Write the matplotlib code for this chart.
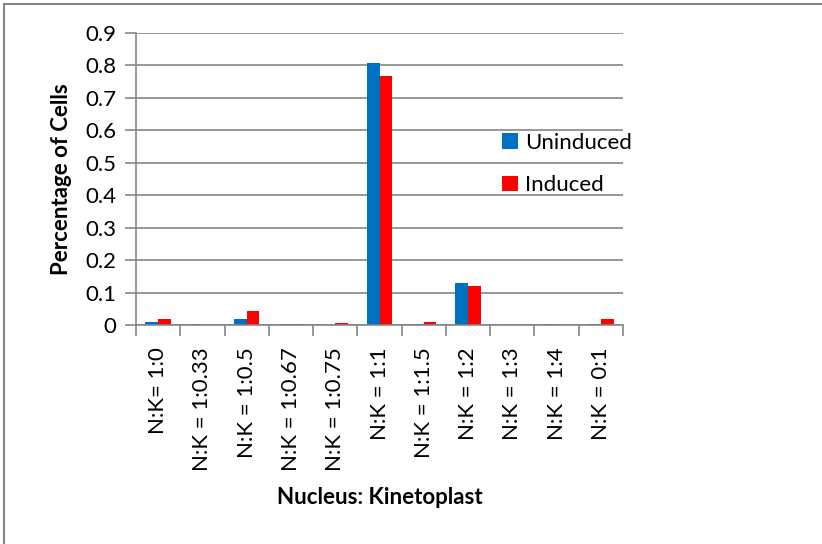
import numpy as np
import matplotlib.pyplot as plt
from matplotlib.lines import Line2D

categories = ['N:K= 1:0', 'N:K = 1:0.33', 'N:K = 1:0.5', 'N:K = 1:0.67', 'N:K = 1:0.75',
              'N:K = 1:1', 'N:K = 1:1.5', 'N:K = 1:2', 'N:K = 1:3', 'N:K = 1:4', 'N:K = 0:1']
uninduced = [0.010, 0.002, 0.020, 0.002, 0.0, 0.808, 0.002, 0.128, 0.0, 0.004, 0.004]
induced = [0.017, 0.0, 0.044, 0.004, 0.005, 0.768, 0.008, 0.120, 0.001, 0.0, 0.017]

plt.rcParams['font.family'] = ['Lato', 'DejaVu Sans']
grey = '#868686'
fs = 16

fig = plt.figure(figsize=(8.22, 5.44), dpi=100)
ax = fig.add_axes([136 / 822, 1 - 325 / 544, (623 - 136) / 822, (325 - 33) / 544])

x = np.arange(len(categories))
w = 0.286
ax.bar(x - w / 2, uninduced, w, color='#0070C0', label='Uninduced')
ax.bar(x + w / 2, induced, w, color='#FF0000', label='Induced')

ax.set_xlim(-0.5, len(categories) - 0.5)
ax.set_ylim(0, 0.9)
ax.set_yticks(np.arange(0, 0.91, 0.1))
ax.set_yticklabels(['0'] + ['%.1f' % v for v in np.arange(0.1, 0.91, 0.1)], fontsize=fs)
ax.yaxis.grid(True, color=grey, linewidth=1.2)
ax.set_axisbelow(True)

ax.set_xticks(x)
ax.set_xticklabels(categories, rotation=90, fontsize=fs)
ax.tick_params(axis='x', length=0, pad=16)
ax.set_xticks(np.arange(-0.5, len(categories), 1), minor=True)
ax.tick_params(axis='x', which='minor', length=8, color=grey, width=1.2)
ax.tick_params(axis='y', length=8, color=grey, width=1.2, pad=6)

for s in ['top', 'right']:
    ax.spines[s].set_visible(False)
for s in ['left', 'bottom']:
    ax.spines[s].set_color(grey)
    ax.spines[s].set_linewidth(1.2)

ax.set_ylabel('Percentage of Cells', fontsize=fs, fontweight='bold', labelpad=10)
fig.text(380 / 822, 1 - 497 / 544, 'Nucleus: Kinetoplast', fontsize=fs,
         fontweight='bold', ha='center', va='center')

fig.legend(loc='upper left', bbox_to_anchor=(502 / 822, 1 - 133 / 544), frameon=False,
           fontsize=fs, handlelength=0.7, handleheight=0.7, handletextpad=0.35,
           labelspacing=1.0, borderaxespad=0, borderpad=0)

# chart area border (only left and top visible in crop)
fig.add_artist(Line2D([4 / 822, 4 / 822], [0, 1 - 4 / 544], color=grey, linewidth=1.5))
fig.add_artist(Line2D([4 / 822, 1], [1 - 4 / 544, 1 - 4 / 544], color=grey, linewidth=1.5))

fig.savefig('out.png', dpi=100)
